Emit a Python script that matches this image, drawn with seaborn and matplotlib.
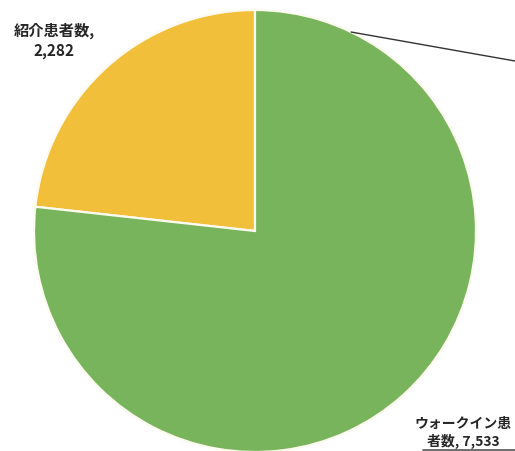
import numpy as np
import matplotlib
matplotlib.use("Agg")
import matplotlib.pyplot as plt
import seaborn as sns

# Patient counts by arrival type
categories = ["紹介患者数", "ウォークイン患者数"]
patients = [2282, 7533]
label_lines = ["紹介患者数,\n2,282", "ウォークイン患\n者数, 7,533"]

sns.set_theme(style="white")
plt.rcParams["font.family"] = ["Noto Sans CJK JP", "DejaVu Sans"]

colors = ["#F2BF3A", "#78B45C"]

W, H = 515, 452
cx, cy, r = 255, 232, 221  # pixel centre and radius of the pie

fig = plt.figure(figsize=(W / 100, H / 100), dpi=100)
ax = fig.add_axes([0, 0, 1, 1])

wedges, _ = ax.pie(
    patients,
    colors=colors,
    startangle=90,
    counterclock=True,
    wedgeprops=dict(edgecolor="#FDFBEF", linewidth=1.6),
)

ax.set_aspect("auto")
ax.set_xlim(-cx / r, (W - cx) / r)
ax.set_ylim(-(H - cy) / r, cy / r)
ax.axis("off")

def px(x, y):
    """pixel position (from top-left) -> data coordinates"""
    return (x - cx) / r, (cy - y) / r

text_kw = dict(ha="center", va="center", color="#262626",
               linespacing=1.25, fontweight="bold")
ax.text(*px(54, 41), label_lines[0], fontsize=11, **text_kw)
ax.text(*px(463, 433), label_lines[1], fontsize=10, **text_kw)

# leader line running off to the right from the upper rim
theta = np.deg2rad(90 - 25.8)
x0, y0 = np.cos(theta), np.sin(theta)
x1, y1 = px(W, 62)
ax.plot([x0, x1], [y0, y1], color="#333333", linewidth=1.0, clip_on=False)

# rule along the lower edge under the right-hand label
ax.plot([px(423, 451)[0], px(W, 451)[0]], [px(0, 451)[1]] * 2,
        color="#555555", linewidth=1.2)

fig.savefig("out.png", dpi=100, facecolor="white")
